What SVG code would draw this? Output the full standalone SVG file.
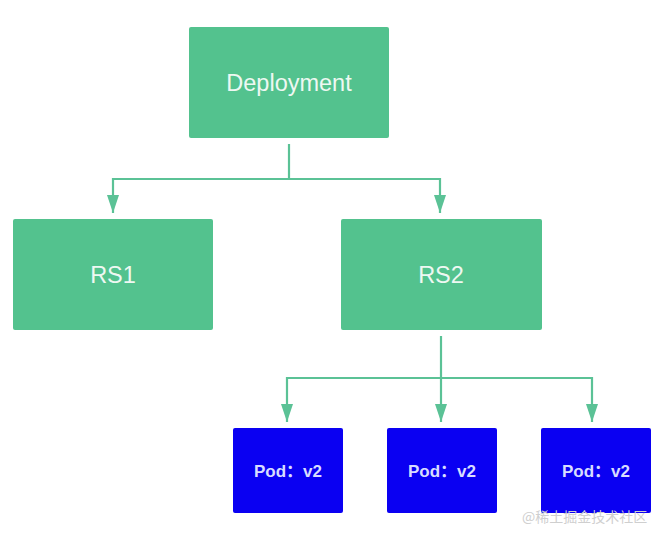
<svg xmlns="http://www.w3.org/2000/svg" width="657" height="539" viewBox="0 0 657 539">
<style>
.g{fill:#53c28e;}
.b{fill:#0a00f2;}
.t{font-family:"Liberation Sans",Arial,sans-serif;fill:#eef8f2;text-anchor:middle;font-size:23.5px;}
.p{font-family:"Liberation Sans","Noto Sans CJK SC",sans-serif;fill:#d8dcff;text-anchor:middle;font-size:17px;font-weight:bold;}
.c{fill:none;stroke:#5bc296;stroke-width:2.2;}
.a{marker-end:url(#ah);}
.w{font-family:"Noto Sans CJK SC",sans-serif;fill:#cfcfcf;font-size:14px;}
</style>
<defs>
<marker id="ah" markerUnits="userSpaceOnUse" markerWidth="18" markerHeight="12" viewBox="0 0 18 12" refX="18" refY="6" orient="auto">
<path d="M0,0 L18,6 L0,12 Z" fill="#5bc296"/>
</marker>
</defs>
<rect width="657" height="539" fill="#ffffff"/>
<g id="connectors">
<polyline class="c" points="289,144 289,179"/>
<polyline class="c a" points="440,179 113,179 113,213"/>
<polyline class="c a" points="289,179 440,179 440,213"/>
<polyline class="c a" points="441,336 441,422"/>
<polyline class="c a" points="441,378 287,378 287,422"/>
<polyline class="c a" points="441,378 592,378 592,422"/>
</g>
<g id="deployment">
<rect class="g" x="189" y="27" width="200" height="111" rx="2"/>
<text class="t" x="289" y="91">Deployment</text>
</g>
<g id="rs1">
<rect class="g" x="13" y="219" width="200" height="111" rx="2"/>
<text class="t" x="113" y="283">RS1</text>
</g>
<g id="rs2">
<rect class="g" x="341" y="219" width="201" height="111" rx="2"/>
<text class="t" x="441" y="283">RS2</text>
</g>
<g id="pod1">
<rect class="b" x="233" y="428" width="110" height="85" rx="2"/>
<text class="p" x="288" y="477">Pod：v2</text>
</g>
<g id="pod2">
<rect class="b" x="387" y="428" width="110" height="85" rx="2"/>
<text class="p" x="442" y="477">Pod：v2</text>
</g>
<g id="pod3">
<rect class="b" x="541" y="428" width="110" height="85" rx="2"/>
<text class="p" x="596" y="477">Pod：v2</text>
</g>
<text class="w" x="522" y="522">@稀土掘金技术社区</text>
</svg>
